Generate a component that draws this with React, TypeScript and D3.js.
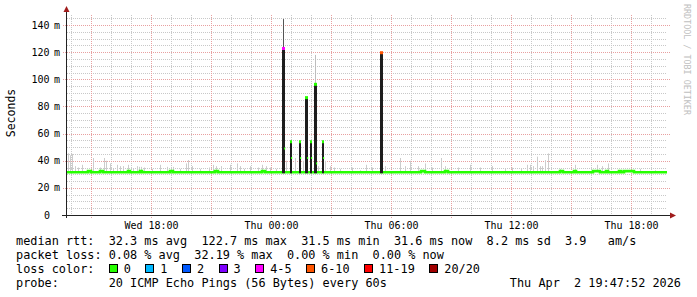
import React from 'react';
import * as d3 from 'd3';

const W = 697;
const H = 297;
const START = Date.UTC(2026, 3, 1, 13, 47, 52);
const END = Date.UTC(2026, 3, 2, 19, 47, 52);
const Y_MAX = 147.4;
const BASE_MEDIAN = 31.5;

// y-axis ticks (ms)
const yMajorTicks = [0, 20, 40, 60, 80, 100, 120, 140];
const yMinorTicks = d3.range(5, 150, 5);

// light grey smoke: minutes after start, max ping (ms)
const smokeT = [3, 9, 15, 24, 33, 45, 78, 99, 111, 117, 129, 138, 150, 159, 168, 183, 198, 210, 216, 222, 231, 255, 279, 300, 318, 339, 357, 363, 375, 399, 426, 438, 447, 462, 489, 510, 519, 531, 549, 573, 585, 597, 609, 627, 657, 684, 699, 708, 747, 753, 774, 789, 801, 819, 855, 879, 897, 915, 954, 999, 1014, 1029, 1053, 1074, 1095, 1122, 1134, 1173, 1209, 1239, 1275, 1314, 1335, 1362, 1380, 1389, 1398, 1410, 1419, 1425, 1434, 1443, 1479, 1524, 1590, 1605, 1623, 1665, 1719, 1764];
const smokeV = [45.5, 44, 45, 36, 35, 37, 42, 35, 42, 40, 38, 34, 37, 36, 36, 37, 34, 36, 35.5, 35.5, 35, 34, 37, 35.5, 35.5, 34, 38, 40.5, 36, 34, 35, 37, 36, 36, 37, 38, 36, 34, 36, 35, 37, 36, 35, 34, 40, 42, 38, 40, 39, 36, 40, 36, 35, 34, 35, 33, 37, 35, 36, 42, 36, 40, 36, 38, 35, 42, 36, 35, 37, 35, 36, 34, 35, 34.6, 37, 37, 36, 43, 36, 36, 40.5, 45.4, 34, 37, 37, 36, 38, 33, 34, 33];

// median bumps: minute ranges where median is slightly higher
const bumpStart = [63, 99, 183, 219, 309, 444, 585, 1062, 1134, 1479, 1521, 1578, 1617, 1656, 1671];
const bumpEnd = [72, 108, 189, 225, 318, 453, 594, 1074, 1143, 1488, 1527, 1599, 1623, 1662, 1701];
const BUMP_VALUE = 32.3;

// high-latency events
const spikeT = [645, 669, 696, 714, 729, 741, 765, 939];
const spikeHi = [122.7, 54, 54, 86.5, 54, 96.3, 54, 119.6];
const spikeNext = [49, 42, 42, 42, 42, 38, 42, 31.5];
const spikeSmokeMax = [144.4, 54, 54, 74, 54, 118, 54, 119.6];
const spikeLoss = ['4-5', '0', '0', '0', '0', '0', '0', '6-10'];

// legend
const lossLabels = ['0', '1', '2', '3', '4-5', '6-10', '11-19', '20/20'];
const lossColors = ['#26ff00', '#00b8ff', '#0059ff', '#7e00ff', '#ff00ff', '#ff5500', '#ff0000', '#a10000'];
const legendRtt = 'median rtt:  32.3 ms avg  122.7 ms max  31.5 ms min  31.6 ms now  8.2 ms sd  3.9   am/s';
const legendLoss = 'packet loss: 0.08 % avg  32.19 % max  0.00 % min  0.00 % now';
const probeText = '20 ICMP Echo Pings (56 Bytes) every 60s';
const dateText = 'Thu Apr  2 19:47:52 2026';

const MONO = '"DejaVu Sans Mono", "Liberation Mono", monospace';
const CW = 7.13;
const LEG_FS = 11.85;

export default function App() {
  const x = d3.scaleUtc().domain([new Date(START), new Date(END)]).range([67, 667]);
  const y = d3.scaleLinear().domain([0, Y_MAX]).range([215, 15]);
  const tAt = (m: number) => new Date(START + m * 60000);
  const px = (m: number) => Math.round(x(tAt(m)));

  const hourTicks = x.ticks(d3.utcHour.every(1)!);
  const majorTicks = x.ticks(d3.utcHour.every(3)!);
  const labelTicks = x.ticks(d3.utcHour.every(6)!);
  const fmt = d3.utcFormat('%a %H:%M');
  const lossColor = (l: string) => lossColors[lossLabels.indexOf(l)];

  // median series
  const medPts: [number, number][] = [[0, BASE_MEDIAN]];
  bumpStart.forEach((s, i) => {
    medPts.push([s, BUMP_VALUE]);
    medPts.push([bumpEnd[i], BASE_MEDIAN]);
  });
  medPts.push([1800, BASE_MEDIAN]);
  const medLine = d3
    .line<[number, number]>()
    .x((d) => x(tAt(d[0])))
    .y((d) => y(d[1]))
    .curve(d3.curveStepAfter);

  // legend row 3 layout
  const legX0 = 16;
  const boxes: { bx: number; tx: number; label: string; color: string }[] = [];
  let bx = legX0 + 13 * CW;
  lossLabels.forEach((l, i) => {
    const tx = bx + 15;
    boxes.push({ bx, tx, label: l, color: lossColors[i] });
    bx = tx + l.length * CW + 14.5;
  });

  return (
    <svg width={W} height={H} style={{ display: 'block', position: 'absolute', left: 0, top: 0, background: '#fff' }}>
      <rect x={0} y={0} width={W} height={H} fill="#fff" />
      {/* minor horizontal grid */}
      {yMinorTicks.filter((v) => v % 20 !== 0).map((v) => (
        <line key={'hm' + v} x1={67} x2={667} y1={Math.round(y(v)) + 0.5} y2={Math.round(y(v)) + 0.5} stroke="#c8c8c8" strokeDasharray="1,1" />
      ))}
      {/* minor vertical grid */}
      {hourTicks.filter((t) => t.getUTCHours() % 3 !== 0).map((t) => (
        <line key={'vm' + +t} x1={Math.round(x(t)) + 0.5} x2={Math.round(x(t)) + 0.5} y1={15} y2={215} stroke="#c8c8c8" strokeDasharray="1,1" />
      ))}
      {/* major horizontal grid */}
      {yMajorTicks.filter((v) => v > 0).map((v) => (
        <line key={'hM' + v} x1={63} x2={670} y1={Math.round(y(v)) + 0.5} y2={Math.round(y(v)) + 0.5} stroke="#e8a0a0" strokeDasharray="1,1" />
      ))}
      {/* major vertical grid */}
      {majorTicks.map((t) => (
        <line key={'vM' + +t} x1={Math.round(x(t)) + 0.5} x2={Math.round(x(t)) + 0.5} y1={15} y2={218} stroke="#e8a0a0" strokeDasharray="1,1" />
      ))}

      {/* smoke */}
      {smokeT.map((m, i) => (
        <rect key={'s' + i} x={px(m)} y={y(smokeV[i])} width={1} height={y(BASE_MEDIAN) - y(smokeV[i])} fill="#cccccc" />
      ))}

      {/* spike smoke extensions */}
      {spikeT.map((m, i) => (
        <rect key={'se' + i} x={px(m) + 1} y={y(spikeSmokeMax[i])} width={1} height={y(BASE_MEDIAN) - y(spikeSmokeMax[i])} fill={i === 0 ? '#555' : '#bdbdbd'} />
      ))}

      {/* median */}
      <path d={medLine(medPts) || ''} fill="none" stroke={lossColors[0]} strokeWidth={2.6} />

      {/* spikes */}
      {spikeT.map((m, i) => {
        const w = spikeHi[i] > 80 ? 3 : 2;
        return (
          <g key={'sp' + i}>
            <rect x={px(m)} y={y(spikeHi[i])} width={w} height={y(BASE_MEDIAN) - y(spikeHi[i]) + 1} fill="#1e1e1e" />
            <rect x={px(m)} y={y(spikeHi[i]) - 1.5} width={w} height={3} fill={lossColor(spikeLoss[i])} />
            {spikeNext[i] > BASE_MEDIAN + 1 && (
              <rect x={px(m) + w - 1} y={y(spikeNext[i]) - 1} width={1.2} height={2} fill={lossColors[0]} />
            )}
          </g>
        );
      })}

      {/* axes */}
      <line x1={66.5} x2={66.5} y1={218} y2={10} stroke="#222" />
      <line x1={62} x2={671} y1={215.5} y2={215.5} stroke="#222" />
      <path d="M63.5,12 L66.5,6 L69.5,12 Z" fill="#a01c1c" />
      <path d="M670,212.5 L676,215.5 L670,218.5 Z" fill="#a01c1c" />

      {/* y labels */}
      {yMajorTicks.map((v) => (
        <g key={'yl' + v} fontFamily={MONO} fontSize={10} fill="#000">
          <text x={v === 0 ? 50 : 49.5} y={y(v) + 3.6} textAnchor="end">{v}</text>
          {v > 0 && <text x={54} y={y(v) + 3.6}>m</text>}
        </g>
      ))}

      {/* x labels */}
      {labelTicks.map((t) => (
        <text key={'xl' + +t} x={Math.round(x(t)) + 0.5} y={228.5} textAnchor="middle" fontFamily={MONO} fontSize={10} fill="#000">
          {fmt(t)}
        </text>
      ))}

      {/* y title */}
      <text transform="translate(14.5,113) rotate(-90)" textAnchor="middle" fontFamily={MONO} fontSize={11.5} fill="#000">
        Seconds
      </text>

      {/* watermark */}
      <text transform="translate(684,4) rotate(90)" fontFamily={MONO} fontSize={8.4} fill="#c0c0c0">
        RRDTOOL / TOBI OETIKER
      </text>

      {/* legend */}
      <g fontFamily={MONO} fontSize={LEG_FS} fill="#000" style={{ whiteSpace: 'pre' }}>
        <text x={legX0} y={245} xmlSpace="preserve">{legendRtt}</text>
        <text x={legX0} y={259} xmlSpace="preserve">{legendLoss}</text>
        <text x={legX0} y={273}>loss color:</text>
        {boxes.map((b) => (
          <g key={'lb' + b.label}>
            <rect x={Math.round(b.bx) + 0.5} y={264.5} width={8} height={8} fill={b.color} stroke="#000" />
            <text x={b.tx} y={273}>{b.label}</text>
          </g>
        ))}
        <text x={legX0} y={287}>probe:</text>
        <text x={legX0 + 13 * CW} y={287}>{probeText}</text>
        <text x={681} y={287} textAnchor="end" xmlSpace="preserve">{dateText}</text>
      </g>
    </svg>
  );
}
